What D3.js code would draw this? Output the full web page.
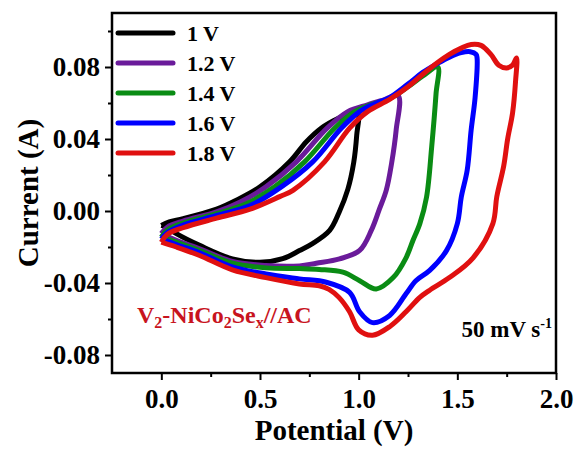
<!DOCTYPE html>
<html>
<head>
<meta charset="utf-8">
<script src="https://cdn.jsdelivr.net/npm/d3@7"></script>
<style>
  body { margin: 0; background: #fff; }
  svg { display: block; font-family: "Liberation Serif", "Times New Roman", serif; font-weight: bold; }
</style>
</head>
<body>
<script>
// CV loops at 50 mV/s, [potential (V), current (A)]
const cv10 = [[0,-0.008],[0.04,-0.006],[0.11,-0.0043],[0.28,0.001],[0.38,0.006],[0.50,0.0134],[0.65,0.0273],[0.735,0.0385],[0.81,0.046],[0.87,0.050],[0.937,0.0534],[0.995,0.0552],
  [0.99,0.042],[0.975,0.027],[0.945,0.012],[0.90,-0.001],[0.853,-0.0108],[0.768,-0.018],[0.70,-0.022],[0.615,-0.0265],[0.50,-0.0285],[0.36,-0.0266],[0.194,-0.0191],[0.076,-0.0126],[0.025,-0.009],[0,-0.008]];
const cv12 = [[0,-0.0125],[0.03,-0.009],[0.11,-0.0056],[0.28,-0.0005],[0.40,0.005],[0.53,0.0134],[0.684,0.0273],[0.84,0.046],[0.945,0.0552],[1.045,0.059],[1.12,0.0615],[1.20,0.064],
  [1.19,0.045],[1.167,0.0266],[1.14,0.0116],[1.105,0.001],[1.064,-0.0108],[1.005,-0.0219],[0.903,-0.0266],[0.785,-0.029],[0.70,-0.0305],[0.53,-0.0303],[0.36,-0.028],[0.194,-0.021],[0.076,-0.0163],[0,-0.0125]];
const cv14 = [[0,-0.0145],[0.03,-0.0105],[0.11,-0.0067],[0.28,-0.0015],[0.43,0.004],[0.574,0.0134],[0.726,0.0273],[0.878,0.046],[0.98,0.0552],[1.06,0.059],[1.157,0.0625],[1.25,0.069],[1.325,0.075],[1.40,0.080],
  [1.392,0.065],[1.37,0.0356],[1.344,0.0077],[1.31,-0.007],[1.275,-0.0164],[1.24,-0.026],[1.175,-0.037],[1.089,-0.0433],[1.005,-0.0387],[0.92,-0.034],[0.80,-0.0325],[0.70,-0.032],[0.53,-0.0316],[0.36,-0.029],[0.194,-0.022],[0.076,-0.0173],[0,-0.0145]];
const cv16 = [[0,-0.0155],[0.03,-0.012],[0.11,-0.0078],[0.28,-0.0025],[0.45,0.003],[0.608,0.0134],[0.767,0.0273],[0.912,0.046],[1.005,0.0552],[1.08,0.0595],[1.157,0.063],[1.25,0.0705],[1.325,0.077],[1.40,0.082],[1.46,0.0855],[1.52,0.088],[1.565,0.0885],[1.595,0.087],[1.60,0.085],
  [1.59,0.063],[1.57,0.045],[1.55,0.0227],[1.52,0.0077],[1.50,-0.007],[1.445,-0.022],[1.36,-0.033],[1.29,-0.0387],[1.24,-0.046],[1.157,-0.058],[1.07,-0.062],[1.005,-0.056],[0.954,-0.0452],[0.836,-0.0396],[0.70,-0.0377],[0.53,-0.035],[0.36,-0.031],[0.194,-0.0232],[0.076,-0.0186],[0,-0.0155]];
const cv18 = [[0,-0.0173],[0.03,-0.013],[0.11,-0.0093],[0.28,-0.004],[0.45,0.001],[0.60,0.008],[0.667,0.0115],[0.827,0.0273],[0.954,0.046],[1.045,0.0552],[1.157,0.062],[1.25,0.069],[1.325,0.076],[1.40,0.0825],[1.46,0.087],[1.52,0.0905],[1.57,0.0925],[1.62,0.092],[1.67,0.087],[1.71,0.081],[1.75,0.0795],[1.78,0.081],[1.80,0.085],
  [1.795,0.072],[1.78,0.0545],[1.755,0.04],[1.735,0.025],[1.70,0.008],[1.68,-0.007],[1.58,-0.026],[1.46,-0.037],[1.36,-0.044],[1.31,-0.048],[1.24,-0.056],[1.16,-0.064],[1.07,-0.069],[1.0,-0.066],[0.954,-0.056],[0.90,-0.048],[0.85,-0.0435],[0.80,-0.0415],[0.70,-0.0405],[0.53,-0.037],[0.36,-0.0327],[0.194,-0.0247],[0.076,-0.020],[0,-0.0173]];

const labels = ["1 V", "1.2 V", "1.4 V", "1.6 V", "1.8 V"];
const colors = ["#000000", "#6a1b9a", "#0a8c14", "#0000ff", "#e01010"];
const xTicks = [0, 0.5, 1.0, 1.5, 2.0];
const xMinor = [0.25, 0.75, 1.25, 1.75];
const yTicks = [-0.08, -0.04, 0, 0.04, 0.08];
const yMinor = [-0.06, -0.02, 0.02, 0.06, 0.10];

const loops = [cv10, cv12, cv14, cv16, cv18];

const W = 579, H = 452;
const m = {left: 112, right: 23, top: 13, bottom: 79};

const svg = d3.select("body").append("svg")
    .attr("width", W)
    .attr("height", H);

const x = d3.scaleLinear().domain([-0.25, 2.0]).range([m.left, W - m.right]);
const y = d3.scaleLinear().domain([-0.09, 0.11]).range([H - m.bottom, m.top]);

// minor ticks
svg.append("g")
    .attr("transform", `translate(0,${H - m.bottom})`)
    .call(d3.axisBottom(x).tickValues(xMinor).tickSize(4).tickFormat(""))
    .call(g => g.select(".domain").remove())
    .selectAll("line").attr("stroke-width", 2);
svg.append("g")
    .attr("transform", `translate(${m.left},0)`)
    .call(d3.axisLeft(y).tickValues(yMinor).tickSize(4).tickFormat(""))
    .call(g => g.select(".domain").remove())
    .selectAll("line").attr("stroke-width", 2);

// major ticks
const xAxis = svg.append("g")
    .attr("transform", `translate(0,${H - m.bottom})`)
    .call(d3.axisBottom(x).tickValues(xTicks).tickSize(7).tickPadding(9).tickFormat(d => d.toFixed(1)));
const yAxis = svg.append("g")
    .attr("transform", `translate(${m.left},0)`)
    .call(d3.axisLeft(y).tickValues(yTicks).tickSize(7).tickPadding(5).tickFormat(d => d.toFixed(2)));

[xAxis, yAxis].forEach(a => {
    a.select(".domain").remove();
    a.selectAll("line").attr("stroke-width", 2);
    a.selectAll("text")
        .attr("font-family", "Liberation Serif, Times New Roman, serif")
        .attr("font-weight", "bold")
        .attr("font-size", 27)
        .attr("fill", "#000");
});

// CV curves
const line = d3.line()
    .x(d => x(d[0]))
    .y(d => y(d[1]))
    .curve(d3.curveCatmullRom.alpha(0.5));

svg.append("g").selectAll("path")
    .data(loops)
  .enter().append("path")
    .attr("d", line)
    .attr("fill", "none")
    .attr("stroke", (d, i) => colors[i])
    .attr("stroke-width", 5)
    .attr("stroke-linejoin", "round");

// frame
svg.append("rect")
    .attr("x", m.left)
    .attr("y", m.top)
    .attr("width", W - m.left - m.right)
    .attr("height", H - m.top - m.bottom)
    .attr("fill", "none")
    .attr("stroke", "#000")
    .attr("stroke-width", 2.5);

// legend
const legend = svg.append("g").selectAll("g")
    .data(labels)
  .enter().append("g")
    .attr("transform", (d, i) => `translate(118,${33 + i * 30})`);
legend.append("line")
    .attr("x1", 0).attr("x2", 55)
    .attr("stroke", (d, i) => colors[i])
    .attr("stroke-width", 5)
    .attr("stroke-linecap", "round");
legend.append("text")
    .attr("x", 69)
    .attr("dy", "0.35em")
    .attr("font-size", 22)
    .text(d => d);

// annotations
const ann = svg.append("text")
    .attr("x", 137)
    .attr("y", 323)
    .attr("font-size", 24)
    .attr("fill", "#c8141e");
ann.append("tspan").text("V");
ann.append("tspan").attr("font-size", 16).attr("dy", 5).text("2");
ann.append("tspan").attr("dy", -5).text("-NiCo");
ann.append("tspan").attr("font-size", 16).attr("dy", 5).text("2");
ann.append("tspan").attr("dy", -5).text("Se");
ann.append("tspan").attr("font-size", 16).attr("dy", 5).text("x");
ann.append("tspan").attr("dy", -5).text("//AC");

const rate = svg.append("text")
    .attr("x", 552)
    .attr("y", 337)
    .attr("text-anchor", "end")
    .attr("font-size", 23);
rate.append("tspan").text("50 mV s");
rate.append("tspan").attr("font-size", 14).attr("dy", -9).text("-1");

// axis titles
svg.append("text")
    .attr("x", (m.left + W - m.right) / 2)
    .attr("y", 440)
    .attr("text-anchor", "middle")
    .attr("font-size", 29)
    .text("Potential (V)");

svg.append("text")
    .attr("transform", `translate(38,${(m.top + H - m.bottom) / 2}) rotate(-90)`)
    .attr("text-anchor", "middle")
    .attr("font-size", 29)
    .text("Current (A)");
</script>
</body>
</html>
